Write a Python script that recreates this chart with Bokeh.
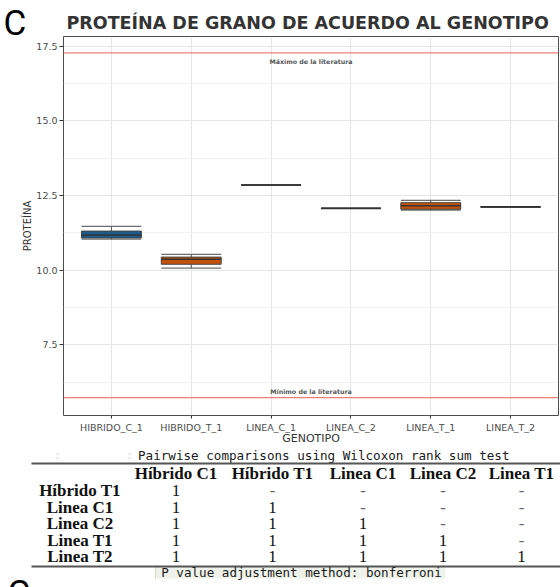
import numpy as np
import pandas as pd
from bokeh.plotting import figure
from bokeh.layouts import column
from bokeh.models import Range1d, FixedTicker, Span, Label, ColumnDataSource, PrintfTickFormatter
from bokeh.core.properties import value
from bokeh.embed import file_html
from bokeh.resources import INLINE

# ---------------- data ----------------
genotypes = ["HIBRIDO_C_1", "HIBRIDO_T_1", "LINEA_C_1", "LINEA_C_2", "LINEA_T_1", "LINEA_T_2"]
whisker_low = [11.04, 10.07, 12.85, 12.07, 12.01, 12.12]
q1 = [11.08, 10.20, 12.85, 12.07, 12.04, 12.12]
median = [11.18, 10.37, 12.85, 12.07, 12.16, 12.12]
q3 = [11.31, 10.44, 12.85, 12.07, 12.26, 12.12]
whisker_high = [11.47, 10.53, 12.85, 12.07, 12.34, 12.12]
fill_colors = ["#1d5b8b", "#c2520b", "#1d5b8b", "#1d5b8b", "#c2520b", "#c2520b"]

lit_values = [17.27, 5.74]
lit_labels = ["Máximo de la literatura", "Mínimo de la literatura"]
lit_label_y = [17.0, 5.94]
y_ticks = [7.5, 10.0, 12.5, 15.0, 17.5]
y_minor = [6.25, 8.75, 11.25, 13.75, 16.25]

panel_letter = "C"
title_text = "PROTEÍNA DE GRANO DE ACUERDO AL GENOTIPO"
x_title = "GENOTIPO"
y_title = "PROTEÍNA"

table_title = "Pairwise comparisons using Wilcoxon rank sum test"
table_cols = ["Híbrido C1", "Híbrido T1", "Linea C1", "Linea C2", "Linea T1"]
table_rows = ["Híbrido T1", "Linea C1", "Linea C2", "Linea T1", "Linea T2"]
p_values = [["1", "-", "-", "-", "-"],
            ["1", "1", "-", "-", "-"],
            ["1", "1", "1", "-", "-"],
            ["1", "1", "1", "1", "-"],
            ["1", "1", "1", "1", "1"]]
table_note = "P value adjustment method: bonferroni"

# ---------------- layout constants ----------------
W = 560
HEADER_H = 36
FRAME_H = 385
BOTTOM_B = 26
PLOT_H = FRAME_H + BOTTOM_B
TABLE_TOP = HEADER_H + PLOT_H
TABLE_H = 587 - TABLE_TOP
BOX_W = 0.75

def blank_fig(h, y0, y1):
    f = figure(width=W, height=h, x_range=Range1d(0, W), y_range=Range1d(y1, y0),
               toolbar_location=None, output_backend="svg", min_border=0,
               min_border_left=0, min_border_right=0, min_border_top=0, min_border_bottom=0,
               title_location=None,
               x_axis_location=None, y_axis_location=None, outline_line_color=None,
               background_fill_color="white", border_fill_color="white")
    f.grid.visible = False
    f.frame_align = False
    return f

# ---------------- header ----------------
head = blank_fig(HEADER_H, 0, HEADER_H)
head.text(x=[3], y=[22.5], text=[panel_letter], text_font=value("Roboto"), text_font_size="35px",
          text_baseline="middle", text_color="black")
head.text(x=[66], y=[22.5], text=[title_text], text_font=value("DejaVu Sans"), text_font_size="17.5px",
          text_font_style="bold", text_baseline="middle", text_color="#333333")

# ---------------- box plot ----------------
n = len(genotypes)
xs = np.arange(1, n + 1)
df = pd.DataFrame(dict(x=xs, low=whisker_low, q1=q1, med=median, q3=q3, high=whisker_high, color=fill_colors))
df["left"] = df["x"] - BOX_W / 2
df["right"] = df["x"] + BOX_W / 2
src = ColumnDataSource(df)

p = figure(width=W, height=PLOT_H, x_range=Range1d(0.4, n + 0.6), y_range=Range1d(5.14, 17.82),
           toolbar_location=None, output_backend="svg", title_location=None,
           min_border_left=63, min_border_right=2, min_border_top=0, min_border_bottom=BOTTOM_B,
           background_fill_color="white", border_fill_color="white")
p.frame_align = False

p.outline_line_color = "#4d4d4d"
p.outline_line_width = 1

p.xaxis.ticker = FixedTicker(ticks=list(xs))
p.xaxis.major_label_overrides = {int(i): g for i, g in zip(xs, genotypes)}
p.yaxis.ticker = FixedTicker(ticks=y_ticks, minor_ticks=y_minor)
p.yaxis.formatter = PrintfTickFormatter(format="%.1f")

p.xgrid.ticker = FixedTicker(ticks=list(xs))
p.xgrid.grid_line_color = "#e6e6e6"
p.ygrid.grid_line_color = "#e6e6e6"
p.ygrid.minor_grid_line_color = "#f1f1f1"

for ax in (p.xaxis, p.yaxis):
    ax.axis_line_color = None
    ax.major_tick_line_color = "#333333"
    ax.major_tick_in = 0
    ax.major_tick_out = 3
    ax.minor_tick_line_color = None
    ax.major_label_text_font = "DejaVu Sans"
    ax.major_label_text_font_size = "9.5px"
    ax.major_label_text_color = "#4d4d4d"
    ax.axis_label_text_font = "DejaVu Sans"
    ax.axis_label_text_font_style = "normal"
    ax.axis_label_text_color = "#333333"

p.xaxis.axis_label = x_title
p.xaxis.axis_label_text_font_size = "11px"
p.xaxis.major_label_standoff = 3
p.xaxis.axis_label_standoff = -4
p.yaxis.axis_label = y_title
p.yaxis.axis_label_text_font_size = "10px"
p.yaxis.major_label_standoff = 2
p.yaxis.axis_label_standoff = 0
p.yaxis.major_tick_out = 4

for v in lit_values:
    p.add_layout(Span(location=v, dimension="width", line_color="#f27c7c", line_width=1.2))
for t_, yy in zip(lit_labels, lit_label_y):
    p.add_layout(Label(x=(n + 1) / 2, y=yy, text=t_, text_align="center", text_baseline="middle",
                       text_font="DejaVu Sans", text_font_style="bold", text_font_size="6.3px",
                       text_color="#55595a"))

p.segment(x0="left", y0="high", x1="right", y1="high", source=src, line_color="#6e6e6e", line_width=1.2)
p.segment(x0="left", y0="low", x1="right", y1="low", source=src, line_color="#6e6e6e", line_width=1.2)
p.segment(x0="x", y0="low", x1="x", y1="high", source=src, line_color="#555555", line_width=1)
p.quad(left="left", right="right", bottom="q1", top="q3", source=src, fill_color="color",
       line_color="#444444", line_width=1)
p.segment(x0="left", y0="med", x1="right", y1="med", source=src, line_color="#333333", line_width=1.6)

# ---------------- table ----------------
t = blank_fig(TABLE_H, TABLE_TOP, 587)
col_x = [175.5, 272, 362.5, 442.5, 521]
row_label_x = 79.5
header_y = 472.5
row_y = [490, 506.7, 523.3, 539.5, 555.7]

t.rect(x=[300], y=[572], width=[290], height=[12], fill_color="#eef2ea", line_color=None)
t.segment(x0=[155], y0=[566], x1=[155], y1=[578], line_color="#cfdcc4", line_width=1)
t.text(x=[57, 129], y=[455, 455], text=[":", ":"], text_font=value("DejaVu Sans Mono"),
       text_font_size="10px", text_color="#c8c8c8", text_align="center", text_baseline="middle")
t.text(x=[137.5], y=[455], text=[table_title], text_font=value("DejaVu Sans Mono"), text_font_size="12.6px",
       text_color="#1a1a1a", text_baseline="middle")
t.segment(x0=[31, 31], y0=[463, 566], x1=[W, W], y1=[463, 566], line_color="#555555", line_width=2)
t.text(x=col_x, y=[header_y] * len(col_x), text=table_cols, text_font=value("Liberation Serif"),
       text_font_style="bold", text_font_size="17px", text_color="#111111",
       text_align="center", text_baseline="middle")
t.text(x=[row_label_x] * len(table_rows), y=row_y, text=table_rows, text_font=value("Liberation Serif"),
       text_font_style="bold", text_font_size="17px", text_color="#111111",
       text_align="center", text_baseline="middle")
cx, cy, ct, cc = [], [], [], []
for i, row in enumerate(p_values):
    for j, val in enumerate(row):
        cx.append(col_x[j]); cy.append(row_y[i]); ct.append(val)
        cc.append("#111111" if val != "-" else "#666666")
t.text(x=cx, y=cy, text=ct, text_font=value("Liberation Serif"), text_font_size="17px",
       text_color=cc, text_align="center", text_baseline="middle")
t.text(x=[160.7], y=[571.7], text=[table_note], text_font=value("DejaVu Sans Mono"), text_font_size="12.6px",
       text_color="#1a1a1a", text_baseline="middle")
t.text(x=[7], y=[593], text=[panel_letter], text_font=value("Roboto"), text_font_size="35px",
       text_baseline="middle", text_color="black")

layout = column(head, p, t, spacing=0)
open("out.html", "w").write(file_html(layout, INLINE))
